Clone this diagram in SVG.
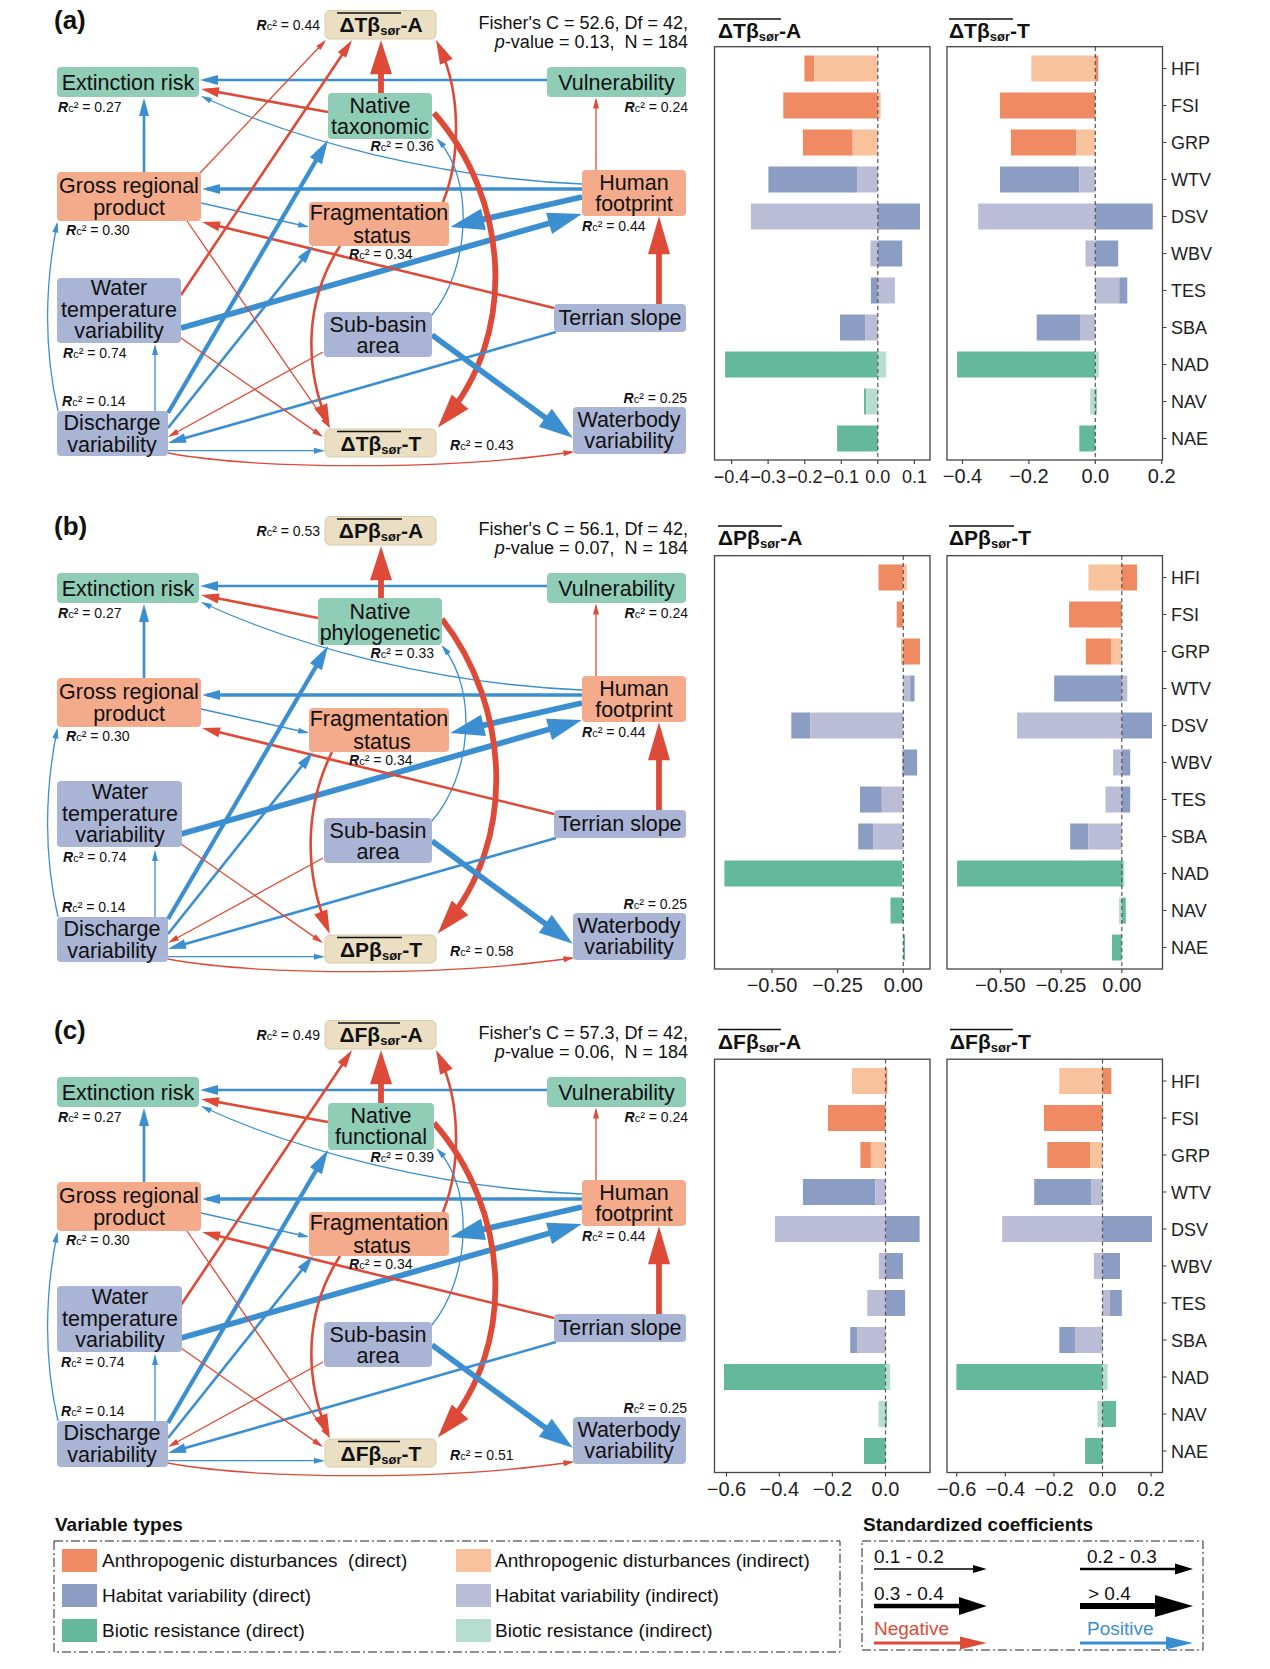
<svg xmlns="http://www.w3.org/2000/svg" width="1270" height="1669" viewBox="0 0 1270 1669">
<defs>
<style>
text{font-family:"Liberation Sans",Arial,sans-serif;fill:#111}
.nt{font-size:21.5px;text-anchor:middle}
.dt{font-size:21px;font-weight:bold;text-anchor:middle}
.rl{font-size:14px}
.R{font-weight:bold;font-style:italic}
.c{font-size:11px}
.pl{font-size:26px;font-weight:bold}
.fs{font-size:18px;text-anchor:end}
.g{fill:#8FCDB6}
.o{fill:#F4AB8C}
.b{fill:#AAB4D5}
.y{fill:#EADFC3;stroke:#D9CBA6;stroke-width:1}
.r{stroke:#DD4A37;fill:none}
.u{stroke:#3B8FD0;fill:none}
.w1{stroke-width:1.3}
.w2{stroke-width:2.6}
.w3{stroke-width:4.2}
.w4{stroke-width:5.8}
.ad{fill:#EF8A62}.ai{fill:#F8C29C}.hd{fill:#8B9DC3}.hi{fill:#BBBCD5}.bd{fill:#64B99C}.bi{fill:#B7DDD0}
.fr{fill:none;stroke:#444;stroke-width:1.3}
.zl{stroke:#555;stroke-width:1.2;stroke-dasharray:4 3}
.tk{stroke:#444;stroke-width:1.2}
.tl{font-size:20px;text-anchor:middle;fill:#222}
.ts{font-size:18px;text-anchor:middle;fill:#222}
.yl{font-size:18px;fill:#222}
.ct{font-size:21px;font-weight:bold}
.ol{stroke:#111;stroke-width:1.6}
.lg{font-size:19px}
.lh{font-size:19px;font-weight:bold}
.lb{fill:none;stroke:#222;stroke-width:1;stroke-dasharray:9 3 2 3}
</style>
<marker id="r1" markerUnits="userSpaceOnUse" markerWidth="11" markerHeight="6" refX="8.6" refY="3" orient="auto" overflow="visible"><path d="M0,0 L11,3 L0,6 z" fill="#DD4A37"/></marker>
<marker id="r2" markerUnits="userSpaceOnUse" markerWidth="18" markerHeight="10" refX="13" refY="5" orient="auto" overflow="visible"><path d="M0,0 L18,5 L0,10 z" fill="#DD4A37"/></marker>
<marker id="r3" markerUnits="userSpaceOnUse" markerWidth="24" markerHeight="14" refX="16" refY="7" orient="auto" overflow="visible"><path d="M0,0 L24,7 L0,14 z" fill="#DD4A37"/></marker>
<marker id="r4" markerUnits="userSpaceOnUse" markerWidth="34" markerHeight="22" refX="25" refY="11" orient="auto" overflow="visible"><path d="M0,0 L34,11 L0,22 z" fill="#DD4A37"/></marker>
<marker id="r5" markerUnits="userSpaceOnUse" markerWidth="38" markerHeight="22" refX="28" refY="11" orient="auto" overflow="visible"><path d="M0,0 L38,11 L0,22 z" fill="#DD4A37"/></marker>
<marker id="b1" markerUnits="userSpaceOnUse" markerWidth="11" markerHeight="6" refX="8.6" refY="3" orient="auto" overflow="visible"><path d="M0,0 L11,3 L0,6 z" fill="#3B8FD0"/></marker>
<marker id="b2" markerUnits="userSpaceOnUse" markerWidth="18" markerHeight="10" refX="13" refY="5" orient="auto" overflow="visible"><path d="M0,0 L18,5 L0,10 z" fill="#3B8FD0"/></marker>
<marker id="b3" markerUnits="userSpaceOnUse" markerWidth="24" markerHeight="14" refX="16" refY="7" orient="auto" overflow="visible"><path d="M0,0 L24,7 L0,14 z" fill="#3B8FD0"/></marker>
<marker id="b4" markerUnits="userSpaceOnUse" markerWidth="34" markerHeight="22" refX="25" refY="11" orient="auto" overflow="visible"><path d="M0,0 L34,11 L0,22 z" fill="#3B8FD0"/></marker>
</defs>
<rect width="1270" height="1669" fill="#fff"/>

<!-- ================= PANEL A ================= -->
<g id="panel-a">
<text class="pl" x="54" y="29">(a)</text>
<text class="fs" x="688" y="29">Fisher's C = 52.6, Df = 42,</text>
<text class="fs" x="688" y="48"><tspan font-style="italic">p</tspan>-value = 0.13, &#160;N = 184</text>
<g id="a-connectors">
<path class="u w2" marker-end="url(#b2)" d="M547,80 L205,80"/>
<path class="r w2" marker-end="url(#r2)" d="M328,112 L205.9,89.9"/>
<path class="r w4" marker-end="url(#r4)" d="M381,93 L381,49.3"/>
<path class="u w1" marker-end="url(#b1)" d="M582,184 C440,178 300,142 203,97"/>
<path class="u w2" marker-end="url(#b2)" d="M144,172 L144,103"/>
<path class="u" stroke-width="3.4" marker-end="url(#b2)" d="M582,189 L207,189"/>
<path class="r w1" marker-end="url(#r1)" d="M596,170 L596,100"/>
<path class="u w4" marker-end="url(#b4)" d="M582,197 L459.1,224.9"/>
<path class="u w4" marker-end="url(#b4)" d="M181,328 L573.1,216.5"/>
<path class="u w1" marker-end="url(#b1)" d="M201,203 L306.7,226.5"/>
<path class="r w2" marker-end="url(#r3)" d="M443,202 C460,160 462,95 439.5,47.2"/>
<path class="r w4" marker-end="url(#r4)" d="M434,113 C510,200 518,335 443.7,420.7"/>
<path class="u w1" marker-end="url(#b1)" d="M431,316 C470,270 475,180 438,140"/>
<path class="r w2" marker-end="url(#r2)" d="M554,308 L206.9,223.2"/>
<path class="r w4" marker-end="url(#r5)" d="M659,304 L659,226.3"/>
<path class="u w2" marker-end="url(#b2)" d="M556,332 L172.8,441.6"/>
<path class="u w4" marker-end="url(#b4)" d="M432,335 L565.5,432.5"/>
<path class="r w2" marker-end="url(#r2)" d="M181,295 L349.2,44.2"/>
<path class="r w1" marker-end="url(#r1)" d="M200,173 L324.3,41.7"/>
<path class="u w3" marker-end="url(#b3)" d="M168,413 L324,146.9"/>
<path class="u w2" marker-end="url(#b2)" d="M168,428 L309.9,249.9"/>
<path class="u w1" marker-end="url(#b1)" d="M155,411 L155,346.4"/>
<path class="u w1" marker-end="url(#b1)" d="M58,411 C44,350 44,290 57,224"/>
<path class="u w1" marker-end="url(#b1)" d="M168,450.7 L322.6,450.7"/>
<path class="r w1" marker-end="url(#r1)" d="M168,453 C260,470 450,470 572,452"/>
<path class="r w1" marker-end="url(#r1)" d="M181,338 L321,435.6"/>
<path class="r w1" marker-end="url(#r1)" d="M187,221 L328.6,426"/>
<path class="r w1" marker-end="url(#r1)" d="M323,352 L170.1,435.8"/>
<path class="r w2" marker-end="url(#r3)" d="M340,246 C305,300 304,365 326.8,420.7"/>
</g>
<g id="a-extinction"><rect class="g" x="57" y="67" width="142" height="30" rx="4"/><text class="nt" x="128" y="90">Extinction risk</text><text class="rl" x="58" y="112"><tspan class="R">R</tspan><tspan class="c">c</tspan>² = 0.27</text></g>
<g id="a-vulnerability"><rect class="g" x="547" y="67" width="139" height="30" rx="4"/><text class="nt" x="616.5" y="90">Vulnerability</text><text class="rl" x="688" y="112" text-anchor="end"><tspan class="R">R</tspan><tspan class="c">c</tspan>² = 0.24</text></g>
<g id="a-native"><rect class="g" x="328" y="93" width="104" height="46" rx="4"/><text class="nt" x="380" y="113">Native</text><text class="nt" x="380" y="134">taxonomic</text><text class="rl" x="434" y="151" text-anchor="end"><tspan class="R">R</tspan><tspan class="c">c</tspan>² = 0.36</text></g>
<g id="a-grp"><rect class="o" x="57" y="172" width="144" height="49" rx="4"/><text class="nt" x="129" y="193">Gross regional</text><text class="nt" x="129" y="215">product</text><text class="rl" x="66" y="235"><tspan class="R">R</tspan><tspan class="c">c</tspan>² = 0.30</text></g>
<g id="a-human"><rect class="o" x="582" y="170" width="104" height="46" rx="4"/><text class="nt" x="634" y="190">Human</text><text class="nt" x="634" y="211">footprint</text><text class="rl" x="582" y="231"><tspan class="R">R</tspan><tspan class="c">c</tspan>² = 0.44</text></g>
<g id="a-fragmentation"><rect class="o" x="309" y="202" width="140" height="44" rx="4"/><text class="nt" x="379" y="220">Fragmentation</text><text class="nt" x="382" y="243">status</text><text class="rl" x="349" y="259"><tspan class="R">R</tspan><tspan class="c">c</tspan>² = 0.34</text></g>
<g id="a-watertemp"><rect class="b" x="57" y="278" width="124" height="65" rx="4"/><text class="nt" x="119" y="295">Water</text><text class="nt" x="119" y="317">temperature</text><text class="nt" x="119" y="338">variability</text><text class="rl" x="63" y="358"><tspan class="R">R</tspan><tspan class="c">c</tspan>² = 0.74</text></g>
<g id="a-subbasin"><rect class="b" x="324" y="312" width="108" height="45" rx="4"/><text class="nt" x="378" y="332">Sub-basin</text><text class="nt" x="378" y="353">area</text></g>
<g id="a-terrian"><rect class="b" x="554" y="304" width="132" height="28" rx="4"/><text class="nt" x="620" y="325">Terrian slope</text></g>
<g id="a-discharge"><rect class="b" x="57" y="411" width="111" height="45" rx="4"/><text class="nt" x="112" y="430">Discharge</text><text class="nt" x="112" y="452">variability</text><text class="rl" x="62" y="406"><tspan class="R">R</tspan><tspan class="c">c</tspan>² = 0.14</text></g>
<g id="a-dtA"><rect class="y" x="325" y="10.5" width="111" height="28.5" rx="5"/><text class="dt" x="381" y="32">ΔTβ<tspan font-size="13" dy="3">sør</tspan><tspan dy="-3">-A</tspan></text><line class="ol" x1="337" y1="13" x2="401" y2="13"/><text class="rl" x="320" y="30" text-anchor="end"><tspan class="R">R</tspan><tspan class="c">c</tspan>² = 0.44</text></g>
<g id="a-dtT"><rect class="y" x="325" y="429" width="111" height="28" rx="5"/><text class="dt" x="381" y="451">ΔTβ<tspan font-size="13" dy="3">sør</tspan><tspan dy="-3">-T</tspan></text><line class="ol" x1="337" y1="431.5" x2="401" y2="431.5"/><text class="rl" x="450" y="450"><tspan class="R">R</tspan><tspan class="c">c</tspan>² = 0.43</text></g>
<g id="a-waterbody"><rect class="b" x="573" y="407" width="113" height="47" rx="4"/><text class="nt" x="629" y="427">Waterbody</text><text class="nt" x="629" y="448">variability</text><text class="rl" x="687" y="403" text-anchor="end"><tspan class="R">R</tspan><tspan class="c">c</tspan>² = 0.25</text></g>
</g>

<!-- ================= PANEL B ================= -->
<g id="panel-b" transform="translate(0,506)">
<text class="pl" x="54" y="29">(b)</text>
<text class="fs" x="688" y="29">Fisher's C = 56.1, Df = 42,</text>
<text class="fs" x="688" y="48"><tspan font-style="italic">p</tspan>-value = 0.07, &#160;N = 184</text>
<g id="b-connectors">
<path class="u w2" marker-end="url(#b2)" d="M547,80 L205,80"/>
<path class="r w2" marker-end="url(#r2)" d="M318,112 L205.9,90"/>
<path class="r w4" marker-end="url(#r4)" d="M381,92 L381,49.3"/>
<path class="u w1" marker-end="url(#b1)" d="M582,184 C440,178 300,142 203,97"/>
<path class="u w2" marker-end="url(#b2)" d="M144,172 L144,103"/>
<path class="u" stroke-width="3.4" marker-end="url(#b2)" d="M582,189 L207,189"/>
<path class="r w1" marker-end="url(#r1)" d="M596,170 L596,100"/>
<path class="u w4" marker-end="url(#b4)" d="M582,197 L459.1,224.9"/>
<path class="u w4" marker-end="url(#b4)" d="M181,328 L573.1,216.5"/>
<path class="u w1" marker-end="url(#b1)" d="M201,203 L306.7,226.5"/>
<path class="r w4" marker-end="url(#r4)" d="M442,113 C510,200 518,335 443.7,420.7"/>
<path class="u w1" marker-end="url(#b1)" d="M431,316 C472,270 478,185 443,141"/>
<path class="r w2" marker-end="url(#r2)" d="M554,308 L206.9,223.2"/>
<path class="r w4" marker-end="url(#r5)" d="M659,304 L659,226.3"/>
<path class="u w2" marker-end="url(#b2)" d="M556,332 L172.8,441.6"/>
<path class="u w4" marker-end="url(#b4)" d="M432,335 L565.5,432.5"/>
<path class="u w3" marker-end="url(#b3)" d="M168,413 L324,146.9"/>
<path class="u w2" marker-end="url(#b2)" d="M168,428 L309.9,249.9"/>
<path class="u w1" marker-end="url(#b1)" d="M155,411 L155,346.4"/>
<path class="u w1" marker-end="url(#b1)" d="M58,411 C44,350 44,290 57,224"/>
<path class="u w1" marker-end="url(#b1)" d="M168,450.7 L322.6,450.7"/>
<path class="r w1" marker-end="url(#r1)" d="M168,453 C260,470 450,470 572,452"/>
<path class="r w1" marker-end="url(#r1)" d="M181,338 L321,435.6"/>
<path class="r w1" marker-end="url(#r1)" d="M323,352 L170.1,435.8"/>
<path class="r w2" marker-end="url(#r3)" d="M332,246 C305,300 304,365 326.8,420.7"/>
</g>
<g id="b-extinction"><rect class="g" x="57" y="67" width="142" height="30" rx="4"/><text class="nt" x="128" y="90">Extinction risk</text><text class="rl" x="58" y="112"><tspan class="R">R</tspan><tspan class="c">c</tspan>² = 0.27</text></g>
<g id="b-vulnerability"><rect class="g" x="547" y="67" width="139" height="30" rx="4"/><text class="nt" x="616.5" y="90">Vulnerability</text><text class="rl" x="688" y="112" text-anchor="end"><tspan class="R">R</tspan><tspan class="c">c</tspan>² = 0.24</text></g>
<g id="b-native"><rect class="g" x="318" y="92" width="124" height="47" rx="4"/><text class="nt" x="380" y="113">Native</text><text class="nt" x="380" y="134">phylogenetic</text><text class="rl" x="434" y="152" text-anchor="end"><tspan class="R">R</tspan><tspan class="c">c</tspan>² = 0.33</text></g>
<g id="b-grp"><rect class="o" x="57" y="172" width="144" height="49" rx="4"/><text class="nt" x="129" y="193">Gross regional</text><text class="nt" x="129" y="215">product</text><text class="rl" x="66" y="235"><tspan class="R">R</tspan><tspan class="c">c</tspan>² = 0.30</text></g>
<g id="b-human"><rect class="o" x="582" y="170" width="104" height="46" rx="4"/><text class="nt" x="634" y="190">Human</text><text class="nt" x="634" y="211">footprint</text><text class="rl" x="582" y="231"><tspan class="R">R</tspan><tspan class="c">c</tspan>² = 0.44</text></g>
<g id="b-fragmentation"><rect class="o" x="309" y="202" width="140" height="44" rx="4"/><text class="nt" x="379" y="220">Fragmentation</text><text class="nt" x="382" y="243">status</text><text class="rl" x="349" y="259"><tspan class="R">R</tspan><tspan class="c">c</tspan>² = 0.34</text></g>
<g id="b-watertemp"><rect class="b" x="57" y="275" width="125" height="66" rx="4"/><text class="nt" x="120" y="293">Water</text><text class="nt" x="120" y="315">temperature</text><text class="nt" x="120" y="336">variability</text><text class="rl" x="63" y="356"><tspan class="R">R</tspan><tspan class="c">c</tspan>² = 0.74</text></g>
<g id="b-subbasin"><rect class="b" x="324" y="312" width="108" height="45" rx="4"/><text class="nt" x="378" y="332">Sub-basin</text><text class="nt" x="378" y="353">area</text></g>
<g id="b-terrian"><rect class="b" x="554" y="304" width="132" height="28" rx="4"/><text class="nt" x="620" y="325">Terrian slope</text></g>
<g id="b-discharge"><rect class="b" x="57" y="411" width="111" height="45" rx="4"/><text class="nt" x="112" y="430">Discharge</text><text class="nt" x="112" y="452">variability</text><text class="rl" x="62" y="406"><tspan class="R">R</tspan><tspan class="c">c</tspan>² = 0.14</text></g>
<g id="b-dpA"><rect class="y" x="325" y="10.5" width="111" height="28.5" rx="5"/><text class="dt" x="381" y="32">ΔPβ<tspan font-size="13" dy="3">sør</tspan><tspan dy="-3">-A</tspan></text><line class="ol" x1="337" y1="13" x2="402" y2="13"/><text class="rl" x="320" y="30" text-anchor="end"><tspan class="R">R</tspan><tspan class="c">c</tspan>² = 0.53</text></g>
<g id="b-dpT"><rect class="y" x="325" y="429" width="111" height="28" rx="5"/><text class="dt" x="381" y="451">ΔPβ<tspan font-size="13" dy="3">sør</tspan><tspan dy="-3">-T</tspan></text><line class="ol" x1="337" y1="431.5" x2="402" y2="431.5"/><text class="rl" x="450" y="450"><tspan class="R">R</tspan><tspan class="c">c</tspan>² = 0.58</text></g>
<g id="b-waterbody"><rect class="b" x="573" y="407" width="113" height="47" rx="4"/><text class="nt" x="629" y="427">Waterbody</text><text class="nt" x="629" y="448">variability</text><text class="rl" x="687" y="403" text-anchor="end"><tspan class="R">R</tspan><tspan class="c">c</tspan>² = 0.25</text></g>
</g>

<!-- ================= PANEL C ================= -->
<g id="panel-c" transform="translate(0,1010)">
<text class="pl" x="54" y="29">(c)</text>
<text class="fs" x="688" y="29">Fisher's C = 57.3, Df = 42,</text>
<text class="fs" x="688" y="48"><tspan font-style="italic">p</tspan>-value = 0.06, &#160;N = 184</text>
<g id="c-connectors">
<path class="u w2" marker-end="url(#b2)" d="M547,80 L205,80"/>
<path class="r w2" marker-end="url(#r2)" d="M328,112 L205.9,89.9"/>
<path class="r w4" marker-end="url(#r4)" d="M381,93 L381,49.3"/>
<path class="u w1" marker-end="url(#b1)" d="M582,184 C440,178 300,142 203,97"/>
<path class="u w2" marker-end="url(#b2)" d="M144,172 L144,103"/>
<path class="u" stroke-width="3.4" marker-end="url(#b2)" d="M582,189 L207,189"/>
<path class="r w1" marker-end="url(#r1)" d="M596,170 L596,100"/>
<path class="u w4" marker-end="url(#b4)" d="M582,197 L459.1,224.9"/>
<path class="u w4" marker-end="url(#b4)" d="M181,328 L573.1,216.5"/>
<path class="u w1" marker-end="url(#b1)" d="M201,203 L306.7,226.5"/>
<path class="r w2" marker-end="url(#r3)" d="M443,202 C460,160 462,95 439.5,47.2"/>
<path class="r w4" marker-end="url(#r4)" d="M434,113 C510,200 518,335 443.7,420.7"/>
<path class="u w1" marker-end="url(#b1)" d="M431,316 C470,270 475,180 438,140"/>
<path class="r w2" marker-end="url(#r2)" d="M554,308 L206.9,223.2"/>
<path class="r w4" marker-end="url(#r5)" d="M659,304 L659,226.3"/>
<path class="u w2" marker-end="url(#b2)" d="M556,332 L172.8,441.6"/>
<path class="u w4" marker-end="url(#b4)" d="M432,335 L565.5,432.5"/>
<path class="r w2" marker-end="url(#r2)" d="M181,295 L349.2,44.2"/>
<path class="u w3" marker-end="url(#b3)" d="M168,413 L324,146.9"/>
<path class="u w2" marker-end="url(#b2)" d="M168,428 L309.9,249.9"/>
<path class="u w1" marker-end="url(#b1)" d="M155,411 L155,346.4"/>
<path class="u w1" marker-end="url(#b1)" d="M58,411 C44,350 44,290 57,224"/>
<path class="u w1" marker-end="url(#b1)" d="M168,450.7 L322.6,450.7"/>
<path class="r w1" marker-end="url(#r1)" d="M168,453 C260,470 450,470 572,452"/>
<path class="r w1" marker-end="url(#r1)" d="M181,338 L321,435.6"/>
<path class="r w1" marker-end="url(#r1)" d="M187,221 L328.6,426"/>
<path class="r w1" marker-end="url(#r1)" d="M323,352 L170.1,435.8"/>
<path class="r w2" marker-end="url(#r3)" d="M340,246 C305,300 304,365 326.8,420.7"/>
</g>
<g id="c-extinction"><rect class="g" x="57" y="67" width="142" height="30" rx="4"/><text class="nt" x="128" y="90">Extinction risk</text><text class="rl" x="58" y="112"><tspan class="R">R</tspan><tspan class="c">c</tspan>² = 0.27</text></g>
<g id="c-vulnerability"><rect class="g" x="547" y="67" width="139" height="30" rx="4"/><text class="nt" x="616.5" y="90">Vulnerability</text><text class="rl" x="688" y="112" text-anchor="end"><tspan class="R">R</tspan><tspan class="c">c</tspan>² = 0.24</text></g>
<g id="c-native"><rect class="g" x="328" y="93" width="106" height="47" rx="4"/><text class="nt" x="381" y="113">Native</text><text class="nt" x="381" y="134">functional</text><text class="rl" x="434" y="152" text-anchor="end"><tspan class="R">R</tspan><tspan class="c">c</tspan>² = 0.39</text></g>
<g id="c-grp"><rect class="o" x="57" y="172" width="144" height="49" rx="4"/><text class="nt" x="129" y="193">Gross regional</text><text class="nt" x="129" y="215">product</text><text class="rl" x="66" y="235"><tspan class="R">R</tspan><tspan class="c">c</tspan>² = 0.30</text></g>
<g id="c-human"><rect class="o" x="582" y="170" width="104" height="46" rx="4"/><text class="nt" x="634" y="190">Human</text><text class="nt" x="634" y="211">footprint</text><text class="rl" x="582" y="231"><tspan class="R">R</tspan><tspan class="c">c</tspan>² = 0.44</text></g>
<g id="c-fragmentation"><rect class="o" x="309" y="202" width="140" height="44" rx="4"/><text class="nt" x="379" y="220">Fragmentation</text><text class="nt" x="382" y="243">status</text><text class="rl" x="349" y="259"><tspan class="R">R</tspan><tspan class="c">c</tspan>² = 0.34</text></g>
<g id="c-watertemp"><rect class="b" x="57" y="276" width="125" height="66" rx="4"/><text class="nt" x="120" y="294">Water</text><text class="nt" x="120" y="316">temperature</text><text class="nt" x="120" y="337">variability</text><text class="rl" x="61" y="357"><tspan class="R">R</tspan><tspan class="c">c</tspan>² = 0.74</text></g>
<g id="c-subbasin"><rect class="b" x="324" y="312" width="108" height="45" rx="4"/><text class="nt" x="378" y="332">Sub-basin</text><text class="nt" x="378" y="353">area</text></g>
<g id="c-terrian"><rect class="b" x="554" y="304" width="132" height="28" rx="4"/><text class="nt" x="620" y="325">Terrian slope</text></g>
<g id="c-discharge"><rect class="b" x="57" y="411" width="111" height="46" rx="4"/><text class="nt" x="112" y="430">Discharge</text><text class="nt" x="112" y="452">variability</text><text class="rl" x="61" y="406"><tspan class="R">R</tspan><tspan class="c">c</tspan>² = 0.14</text></g>
<g id="c-dfA"><rect class="y" x="325" y="10.5" width="111" height="28.5" rx="5"/><text class="dt" x="381" y="32">ΔFβ<tspan font-size="13" dy="3">sør</tspan><tspan dy="-3">-A</tspan></text><line class="ol" x1="338" y1="13" x2="400" y2="13"/><text class="rl" x="320" y="30" text-anchor="end"><tspan class="R">R</tspan><tspan class="c">c</tspan>² = 0.49</text></g>
<g id="c-dfT"><rect class="y" x="325" y="429" width="111" height="28" rx="5"/><text class="dt" x="381" y="451">ΔFβ<tspan font-size="13" dy="3">sør</tspan><tspan dy="-3">-T</tspan></text><line class="ol" x1="338" y1="431.5" x2="400" y2="431.5"/><text class="rl" x="450" y="450"><tspan class="R">R</tspan><tspan class="c">c</tspan>² = 0.51</text></g>
<g id="c-waterbody"><rect class="b" x="573" y="407" width="113" height="47" rx="4"/><text class="nt" x="629" y="427">Waterbody</text><text class="nt" x="629" y="448">variability</text><text class="rl" x="687" y="403" text-anchor="end"><tspan class="R">R</tspan><tspan class="c">c</tspan>² = 0.25</text></g>
</g>

<!-- ================= CHART A ================= -->
<g id="chart-a">
<text class="ct" x="718" y="38">ΔTβ<tspan font-size="13" dy="3">sør</tspan><tspan dy="-3">-A</tspan></text><line class="ol" x1="718" y1="19" x2="781" y2="19"/>
<text class="ct" x="949" y="38">ΔTβ<tspan font-size="13" dy="3">sør</tspan><tspan dy="-3">-T</tspan></text><line class="ol" x1="949" y1="19" x2="1013" y2="19"/>
<rect class="ad" x="804.4" y="55.5" width="10.1" height="26"/><rect class="ai" x="814.5" y="55.5" width="63.3" height="26"/>
<rect class="ad" x="783.3" y="92.5" width="94.5" height="26"/><rect class="ai" x="877.8" y="92.5" width="2.9" height="26"/>
<rect class="ad" x="802.9" y="129.5" width="49.8" height="26"/><rect class="ai" x="852.7" y="129.5" width="25.1" height="26"/>
<rect class="hd" x="768.4" y="166.5" width="88.7" height="26"/><rect class="hi" x="857.1" y="166.5" width="20.7" height="26"/>
<rect class="hi" x="750.9" y="203.5" width="126.9" height="26"/><rect class="hd" x="877.8" y="203.5" width="42.2" height="26"/>
<rect class="hi" x="870.5" y="240.5" width="7.3" height="26"/><rect class="hd" x="877.8" y="240.5" width="24.4" height="26"/>
<rect class="hd" x="870.9" y="277.5" width="6.9" height="26"/><rect class="hi" x="877.8" y="277.5" width="17.1" height="26"/>
<rect class="hd" x="840" y="314.5" width="25.1" height="26"/><rect class="hi" x="865.1" y="314.5" width="12.7" height="26"/>
<rect class="bd" x="725.1" y="351.5" width="152.7" height="26"/><rect class="bi" x="877.8" y="351.5" width="8.4" height="26"/>
<rect class="bd" x="864" y="388.5" width="2.2" height="26"/><rect class="bi" x="866.2" y="388.5" width="11.6" height="26"/>
<rect class="bd" x="837.1" y="425.5" width="40.7" height="26"/>
<rect class="ai" x="1031.3" y="55.5" width="64" height="26"/><rect class="ad" x="1095.3" y="55.5" width="2.9" height="26"/>
<rect class="ad" x="1000" y="92.5" width="95.3" height="26"/>
<rect class="ad" x="1010.9" y="129.5" width="65.5" height="26"/><rect class="ai" x="1076.4" y="129.5" width="18.9" height="26"/>
<rect class="hd" x="1000" y="166.5" width="79.3" height="26"/><rect class="hi" x="1079.3" y="166.5" width="16" height="26"/>
<rect class="hi" x="978.2" y="203.5" width="117.1" height="26"/><rect class="hd" x="1095.3" y="203.5" width="57.4" height="26"/>
<rect class="hi" x="1085.5" y="240.5" width="9.8" height="26"/><rect class="hd" x="1095.3" y="240.5" width="22.9" height="26"/>
<rect class="hi" x="1095.3" y="277.5" width="24" height="26"/><rect class="hd" x="1119.3" y="277.5" width="8" height="26"/>
<rect class="hd" x="1036.7" y="314.5" width="43.3" height="26"/><rect class="hi" x="1080" y="314.5" width="15.3" height="26"/>
<rect class="bd" x="957.1" y="351.5" width="138.2" height="26"/><rect class="bi" x="1095.3" y="351.5" width="3.6" height="26"/>
<rect class="bi" x="1090.2" y="388.5" width="5.1" height="26"/><rect class="bd" x="1095.3" y="388.5" width="1.4" height="26"/>
<rect class="bd" x="1079.3" y="425.5" width="16" height="26"/>
<line class="zl" x1="877.8" y1="47" x2="877.8" y2="460"/>
<line class="zl" x1="1095.3" y1="47" x2="1095.3" y2="460"/>
<rect class="fr" x="714.5" y="46.7" width="215.5" height="413.3"/>
<rect class="fr" x="947" y="46.7" width="215.5" height="413.3"/>
<path class="tk" d="M731.6,460v4M768.1,460v4M804.7,460v4M841.3,460v4M877.8,460v4M914.4,460v4M962.5,460v4M1028.9,460v4M1095.3,460v4M1161.7,460v4"/>
<text class="ts" x="731.6" y="483">−0.4</text><text class="ts" x="768.1" y="483">−0.3</text><text class="ts" x="804.7" y="483">−0.2</text><text class="ts" x="841.3" y="483">−0.1</text><text class="ts" x="877.8" y="483">0.0</text><text class="ts" x="914.4" y="483">0.1</text>
<text class="tl" x="962.5" y="483">−0.4</text><text class="tl" x="1028.9" y="483">−0.2</text><text class="tl" x="1095.3" y="483">0.0</text><text class="tl" x="1161.7" y="483">0.2</text>
<path class="tk" d="M1162.5,68.5h4M1162.5,105.5h4M1162.5,142.5h4M1162.5,179.5h4M1162.5,216.5h4M1162.5,253.5h4M1162.5,290.5h4M1162.5,327.5h4M1162.5,364.5h4M1162.5,401.5h4M1162.5,438.5h4"/>
<text class="yl" x="1171" y="75">HFI</text><text class="yl" x="1171" y="112">FSI</text><text class="yl" x="1171" y="149">GRP</text><text class="yl" x="1171" y="186">WTV</text><text class="yl" x="1171" y="223">DSV</text><text class="yl" x="1171" y="260">WBV</text><text class="yl" x="1171" y="297">TES</text><text class="yl" x="1171" y="334">SBA</text><text class="yl" x="1171" y="371">NAD</text><text class="yl" x="1171" y="408">NAV</text><text class="yl" x="1171" y="445">NAE</text>
</g>

<!-- ================= CHART B ================= -->
<g id="chart-b" transform="translate(0,509)">
<text class="ct" x="718" y="36">ΔPβ<tspan font-size="13" dy="3">sør</tspan><tspan dy="-3">-A</tspan></text><line class="ol" x1="718" y1="17" x2="782" y2="17"/>
<text class="ct" x="949" y="36">ΔPβ<tspan font-size="13" dy="3">sør</tspan><tspan dy="-3">-T</tspan></text><line class="ol" x1="949" y1="17" x2="1014" y2="17"/>
<rect class="ad" x="878.5" y="55.5" width="24.8" height="26"/><rect class="ai" x="903.3" y="55.5" width="3.6" height="26"/>
<rect class="ad" x="896.7" y="92.5" width="6.6" height="26"/>
<rect class="ai" x="901" y="129.5" width="2.3" height="26"/><rect class="ad" x="903.3" y="129.5" width="16.7" height="26"/>
<rect class="hi" x="903.3" y="166.5" width="6.9" height="26"/><rect class="hd" x="910.2" y="166.5" width="4.3" height="26"/>
<rect class="hd" x="791.3" y="203.5" width="18.9" height="26"/><rect class="hi" x="810.2" y="203.5" width="93.1" height="26"/>
<rect class="hi" x="902" y="240.5" width="1.3" height="26"/><rect class="hd" x="903.3" y="240.5" width="13.8" height="26"/>
<rect class="hd" x="860" y="277.5" width="21.8" height="26"/><rect class="hi" x="881.8" y="277.5" width="21.5" height="26"/>
<rect class="hd" x="858.2" y="314.5" width="15.3" height="26"/><rect class="hi" x="873.5" y="314.5" width="29.8" height="26"/>
<rect class="bd" x="724.4" y="351.5" width="178.1" height="26"/><rect class="bi" x="902.5" y="351.5" width="0.8" height="26"/>
<rect class="bd" x="890.5" y="388.5" width="12.8" height="26"/>
<rect class="bd" x="903.3" y="425.5" width="1.8" height="26"/>
<rect class="ai" x="1088.4" y="55.5" width="33.4" height="26"/><rect class="ad" x="1121.8" y="55.5" width="15.3" height="26"/>
<rect class="ad" x="1069.1" y="92.5" width="52.7" height="26"/>
<rect class="ad" x="1085.8" y="129.5" width="25.5" height="26"/><rect class="ai" x="1111.3" y="129.5" width="10.5" height="26"/>
<rect class="hd" x="1054.2" y="166.5" width="67.6" height="26"/><rect class="hi" x="1121.8" y="166.5" width="5.5" height="26"/>
<rect class="hi" x="1017.1" y="203.5" width="104.7" height="26"/><rect class="hd" x="1121.8" y="203.5" width="30.2" height="26"/>
<rect class="hi" x="1113.1" y="240.5" width="8.7" height="26"/><rect class="hd" x="1121.8" y="240.5" width="8.4" height="26"/>
<rect class="hi" x="1105.5" y="277.5" width="16.3" height="26"/><rect class="hd" x="1121.8" y="277.5" width="8.4" height="26"/>
<rect class="hd" x="1070.2" y="314.5" width="18.2" height="26"/><rect class="hi" x="1088.4" y="314.5" width="33.4" height="26"/>
<rect class="bd" x="957.1" y="351.5" width="165.8" height="26"/><rect class="bi" x="1122.9" y="351.5" width="1.5" height="26"/>
<rect class="bi" x="1119" y="388.5" width="2.8" height="26"/><rect class="bd" x="1121.8" y="388.5" width="4" height="26"/>
<rect class="bd" x="1112" y="425.5" width="9.8" height="26"/>
<line class="zl" x1="903.3" y1="47" x2="903.3" y2="460"/>
<line class="zl" x1="1121.8" y1="47" x2="1121.8" y2="460"/>
<rect class="fr" x="714.5" y="46.7" width="215.5" height="413.3"/>
<rect class="fr" x="947" y="46.7" width="215.5" height="413.3"/>
<path class="tk" d="M772,460v4M837.5,460v4M903.3,460v4M1000.4,460v4M1061.1,460v4M1121.8,460v4"/>
<text class="tl" x="772" y="483">−0.50</text><text class="tl" x="837.5" y="483">−0.25</text><text class="tl" x="903.3" y="483">0.00</text>
<text class="tl" x="1000.4" y="483">−0.50</text><text class="tl" x="1061.1" y="483">−0.25</text><text class="tl" x="1121.8" y="483">0.00</text>
<path class="tk" d="M1162.5,68.5h4M1162.5,105.5h4M1162.5,142.5h4M1162.5,179.5h4M1162.5,216.5h4M1162.5,253.5h4M1162.5,290.5h4M1162.5,327.5h4M1162.5,364.5h4M1162.5,401.5h4M1162.5,438.5h4"/>
<text class="yl" x="1171" y="75">HFI</text><text class="yl" x="1171" y="112">FSI</text><text class="yl" x="1171" y="149">GRP</text><text class="yl" x="1171" y="186">WTV</text><text class="yl" x="1171" y="223">DSV</text><text class="yl" x="1171" y="260">WBV</text><text class="yl" x="1171" y="297">TES</text><text class="yl" x="1171" y="334">SBA</text><text class="yl" x="1171" y="371">NAD</text><text class="yl" x="1171" y="408">NAV</text><text class="yl" x="1171" y="445">NAE</text>
</g>

<!-- ================= CHART C ================= -->
<g id="chart-c" transform="translate(0,1012.5)">
<text class="ct" x="718" y="36">ΔFβ<tspan font-size="13" dy="3">sør</tspan><tspan dy="-3">-A</tspan></text><line class="ol" x1="718" y1="17" x2="781" y2="17"/>
<text class="ct" x="950" y="36">ΔFβ<tspan font-size="13" dy="3">sør</tspan><tspan dy="-3">-T</tspan></text><line class="ol" x1="950" y1="17" x2="1013" y2="17"/>
<rect class="ai" x="852" y="55.5" width="33.5" height="26"/><rect class="ad" x="885.5" y="55.5" width="1.8" height="26"/>
<rect class="ad" x="828" y="92.5" width="57.5" height="26"/>
<rect class="ad" x="860.4" y="129.5" width="10.5" height="26"/><rect class="ai" x="870.9" y="129.5" width="14.6" height="26"/>
<rect class="hd" x="802.9" y="166.5" width="72.4" height="26"/><rect class="hi" x="875.3" y="166.5" width="10.2" height="26"/>
<rect class="hi" x="774.9" y="203.5" width="110.6" height="26"/><rect class="hd" x="885.5" y="203.5" width="34.1" height="26"/>
<rect class="hi" x="878.9" y="240.5" width="6.6" height="26"/><rect class="hd" x="885.5" y="240.5" width="17.4" height="26"/>
<rect class="hi" x="867.3" y="277.5" width="18.2" height="26"/><rect class="hd" x="885.5" y="277.5" width="19.6" height="26"/>
<rect class="hd" x="850.2" y="314.5" width="6.9" height="26"/><rect class="hi" x="857.1" y="314.5" width="28.4" height="26"/>
<rect class="bd" x="724" y="351.5" width="161.5" height="26"/><rect class="bi" x="885.5" y="351.5" width="4.7" height="26"/>
<rect class="bi" x="878.5" y="388.5" width="7" height="26"/><rect class="bd" x="885.5" y="388.5" width="1.5" height="26"/>
<rect class="bd" x="864" y="425.5" width="21.5" height="26"/>
<rect class="ai" x="1059.3" y="55.5" width="43.2" height="26"/><rect class="ad" x="1102.5" y="55.5" width="8.8" height="26"/>
<rect class="ad" x="1044" y="92.5" width="58.5" height="26"/>
<rect class="ad" x="1047.3" y="129.5" width="42.9" height="26"/><rect class="ai" x="1090.2" y="129.5" width="12.3" height="26"/>
<rect class="hd" x="1034.2" y="166.5" width="57.4" height="26"/><rect class="hi" x="1091.6" y="166.5" width="10.9" height="26"/>
<rect class="hi" x="1002.2" y="203.5" width="100.3" height="26"/><rect class="hd" x="1102.5" y="203.5" width="49.5" height="26"/>
<rect class="hi" x="1093.8" y="240.5" width="8.7" height="26"/><rect class="hd" x="1102.5" y="240.5" width="17.5" height="26"/>
<rect class="hi" x="1102.5" y="277.5" width="7.3" height="26"/><rect class="hd" x="1109.8" y="277.5" width="12" height="26"/>
<rect class="hd" x="1059.3" y="314.5" width="16.3" height="26"/><rect class="hi" x="1075.6" y="314.5" width="26.9" height="26"/>
<rect class="bd" x="956.4" y="351.5" width="146.1" height="26"/><rect class="bi" x="1102.5" y="351.5" width="5.1" height="26"/>
<rect class="bi" x="1097.5" y="388.5" width="5" height="26"/><rect class="bd" x="1102.5" y="388.5" width="13.5" height="26"/>
<rect class="bd" x="1085.1" y="425.5" width="17.4" height="26"/>
<line class="zl" x1="885.5" y1="47" x2="885.5" y2="460"/>
<line class="zl" x1="1102.5" y1="47" x2="1102.5" y2="460"/>
<rect class="fr" x="714.5" y="46.7" width="215.5" height="413.3"/>
<rect class="fr" x="947" y="46.7" width="215.5" height="413.3"/>
<path class="tk" d="M726.5,460v4M779.3,460v4M832.4,460v4M885.5,460v4M956.7,460v4M1005.3,460v4M1053.9,460v4M1102.5,460v4M1151.1,460v4"/>
<text class="tl" x="726.5" y="483">−0.6</text><text class="tl" x="779.3" y="483">−0.4</text><text class="tl" x="832.4" y="483">−0.2</text><text class="tl" x="885.5" y="483">0.0</text>
<text class="tl" x="956.7" y="483">−0.6</text><text class="tl" x="1005.3" y="483">−0.4</text><text class="tl" x="1053.9" y="483">−0.2</text><text class="tl" x="1102.5" y="483">0.0</text><text class="tl" x="1151.1" y="483">0.2</text>
<path class="tk" d="M1162.5,68.5h4M1162.5,105.5h4M1162.5,142.5h4M1162.5,179.5h4M1162.5,216.5h4M1162.5,253.5h4M1162.5,290.5h4M1162.5,327.5h4M1162.5,364.5h4M1162.5,401.5h4M1162.5,438.5h4"/>
<text class="yl" x="1171" y="75">HFI</text><text class="yl" x="1171" y="112">FSI</text><text class="yl" x="1171" y="149">GRP</text><text class="yl" x="1171" y="186">WTV</text><text class="yl" x="1171" y="223">DSV</text><text class="yl" x="1171" y="260">WBV</text><text class="yl" x="1171" y="297">TES</text><text class="yl" x="1171" y="334">SBA</text><text class="yl" x="1171" y="371">NAD</text><text class="yl" x="1171" y="408">NAV</text><text class="yl" x="1171" y="445">NAE</text>
</g>

<!-- ================= LEGEND ================= -->
<g id="legend">
<text class="lh" x="55" y="1531">Variable types</text>
<rect class="lb" x="54" y="1541" width="786" height="111"/>
<rect class="ad" x="62" y="1549" width="35" height="23"/><text class="lg" x="102" y="1567">Anthropogenic disturbances &#160;(direct)</text>
<rect class="ai" x="456" y="1549" width="35" height="23"/><text class="lg" x="495" y="1567">Anthropogenic disturbances (indirect)</text>
<rect class="hd" x="62" y="1584" width="35" height="23"/><text class="lg" x="102" y="1602">Habitat variability (direct)</text>
<rect class="hi" x="456" y="1584" width="35" height="23"/><text class="lg" x="495" y="1602">Habitat variability (indirect)</text>
<rect class="bd" x="62" y="1619" width="35" height="23"/><text class="lg" x="102" y="1637">Biotic resistance (direct)</text>
<rect class="bi" x="456" y="1619" width="35" height="23"/><text class="lg" x="495" y="1637">Biotic resistance (indirect)</text>
<text class="lh" x="863" y="1531">Standardized coefficients</text>
<rect class="lb" x="862" y="1541" width="341" height="109"/>
<text class="lg" x="874" y="1563">0.1 - 0.2</text>
<line x1="874" y1="1569" x2="975" y2="1569" stroke="#000" stroke-width="1.3"/><polygon points="973,1565 986.7,1569 973,1573" fill="#000"/>
<text class="lg" x="1087" y="1563">0.2 - 0.3</text>
<line x1="1080" y1="1569" x2="1178" y2="1569" stroke="#000" stroke-width="2.5"/><polygon points="1175,1563.5 1193,1569 1175,1574.5" fill="#000"/>
<text class="lg" x="874" y="1600">0.3 - 0.4</text>
<line x1="874" y1="1606" x2="962" y2="1606" stroke="#000" stroke-width="4.5"/><polygon points="959,1597 986.7,1606 959,1615" fill="#000"/>
<text class="lg" x="1088" y="1600">&gt; 0.4</text>
<line x1="1080" y1="1606" x2="1158" y2="1606" stroke="#000" stroke-width="6"/><polygon points="1155,1595 1193,1606 1155,1617" fill="#000"/>
<text class="lg" x="874" y="1635" style="fill:#DD4A37">Negative</text>
<line x1="874" y1="1643" x2="963" y2="1643" stroke="#DD4A37" stroke-width="3"/><polygon points="960,1636.5 986.7,1643 960,1649.5" fill="#DD4A37"/>
<text class="lg" x="1087" y="1635" style="fill:#3B8FD0">Positive</text>
<line x1="1080" y1="1643" x2="1169" y2="1643" stroke="#3B8FD0" stroke-width="3"/><polygon points="1166,1636.5 1193,1643 1166,1649.5" fill="#3B8FD0"/>
</g>
</svg>
